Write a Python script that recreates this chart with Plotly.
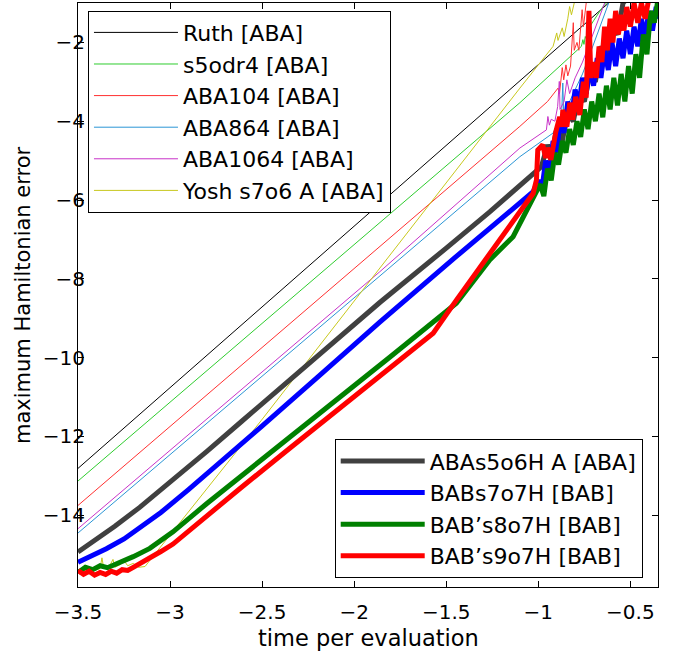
import plotly.graph_objects as go

FONT = "DejaVu Sans, Verdana, sans-serif"

# ---------------- data (log10 time per evaluation, log10 max Hamiltonian error) ----------------
ruth_x = [-3.5, -0.62, -0.55]
ruth_y = [-12.81, -1.0, -0.72]

s5odr4_x = [-3.5, -1.10, -0.766, -0.758, -0.752, -0.745, -0.735, -0.72, -0.70, -0.68, -0.65, -0.61]
s5odr4_y = [-13.13, -3.53, -2.10, -1.93, -2.05, -1.85, -1.95, -1.60, -1.45, -1.30, -1.10, -0.90]

aba104_x = [-3.5, -1.10, -0.95, -0.893, -0.885, -0.87, -0.862, -0.85, -0.84, -0.825, -0.81, -0.805,
            -0.79, -0.78, -0.762, -0.755, -0.74, -0.73]
aba104_y = [-13.75, -4.13, -3.50, -3.16, -3.30, -2.64, -2.95, -2.57, -2.85, -2.60, -1.50, -2.20,
            -2.00, -2.20, -1.17, -1.60, -1.00, -0.80]

aba864_x = [-3.5, -1.861, -1.10, -0.92, -0.90, -0.875, -0.867, -0.862, -0.84, -0.80, -0.76, -0.72,
            -0.68, -0.64, -0.61]
aba864_y = [-14.45, -7.94, -4.90, -4.30, -4.15, -4.00, -3.03, -3.90, -3.60, -3.20, -2.80, -2.30,
            -1.80, -1.30, -0.90]

aba1064_x = [-3.5, -1.861, -1.10, -0.956, -0.948, -0.94, -0.93, -0.91, -0.895, -0.886, -0.882,
             -0.86, -0.845, -0.83, -0.80, -0.76, -0.72, -0.68, -0.64]
aba1064_y = [-14.34, -7.82, -4.68, -4.22, -3.88, -4.10, -3.95, -4.00, -3.63, -2.99, -3.70,
             -3.50, -2.95, -3.30, -2.90, -2.50, -2.00, -1.50, -1.00]

yosh_x = [-3.5, -3.47, -3.44, -3.41, -3.38, -3.37, -3.36, -3.33, -3.31, -3.30, -3.27, -3.25,
          -3.23, -3.20, -3.17, -3.136, -2.966, -2.504, -1.10, -0.92, -0.90, -0.893, -0.87,
          -0.86, -0.84, -0.83, -0.82, -0.80]
yosh_y = [-15.38, -15.42, -15.35, -15.40, -15.35, -15.08, -15.35, -15.30, -15.12, -15.32, -15.25,
          -15.15, -15.28, -15.22, -15.32, -15.30, -14.30, -11.59, -3.16, -2.10, -1.76, -1.95,
          -1.63, -1.85, -1.40, -1.09, -1.30, -0.90]

abas5o6h_x = [-3.5, -3.40, -3.30, -3.165, -2.984, -2.80, -2.612, -2.2, -1.861, -1.5, -1.264,
              -0.983, -0.95, -0.93, -0.90, -0.87, -0.84, -0.81, -0.78, -0.75, -0.72, -0.69,
              -0.66, -0.63, -0.60, -0.57, -0.54, -0.50]
abas5o6h_y = [-14.93, -14.62, -14.28, -13.80, -13.10, -12.38, -11.62, -9.98, -8.60, -7.22, -6.30,
              -5.15, -4.60, -4.90, -4.20, -4.50, -3.80, -4.00, -3.30, -3.50, -2.80, -3.00,
              -2.10, -2.40, -1.60, -1.80, -1.00, -0.80]

babs7o7h_x = [-3.5, -3.43, -3.346, -3.25, -3.165, -3.05, -2.9, -2.7, -2.504, -2.2, -1.861, -1.45,
              -1.028, -1.0, -0.98, -0.96, -0.94, -0.92, -0.90, -0.88, -0.86, -0.84, -0.82, -0.80,
              -0.78, -0.76, -0.74, -0.72, -0.70, -0.68, -0.66, -0.64, -0.62, -0.60, -0.58, -0.56,
              -0.54, -0.52, -0.50, -0.48, -0.46, -0.44, -0.42, -0.40, -0.38, -0.36, -0.35]
babs7o7h_y = [-15.19, -15.05, -14.85, -14.60, -14.33, -13.93, -13.35, -12.55, -11.75, -10.50, -9.10, -7.45,
              -5.79, -5.50, -5.70, -5.00, -5.30, -4.50, -4.80, -3.90, -4.30, -3.50, -3.90, -3.20,
              -3.60, -2.90, -3.30, -2.60, -3.10, -2.40, -2.90, -2.20, -2.70, -2.00, -2.60, -1.90,
              -2.40, -1.70, -2.30, -1.60, -2.10, -1.40, -1.90, -1.20, -1.70, -1.10, -1.40]

babs8o7h_x = [-3.5, -3.46, -3.42, -3.38, -3.34, -3.30, -3.257, -3.20, -3.11, -2.984, -2.80, -2.62,
              -2.35, -1.807, -1.445, -1.264, -1.137, -1.01, -0.99, -0.97, -0.95, -0.93, -0.91,
              -0.89, -0.87, -0.85, -0.83, -0.81, -0.79, -0.77, -0.75, -0.73, -0.71, -0.69, -0.67,
              -0.65, -0.63, -0.61, -0.59, -0.57, -0.55, -0.53, -0.51, -0.49, -0.47, -0.45, -0.43,
              -0.41, -0.39, -0.37, -0.35]
babs8o7h_y = [-15.45, -15.32, -15.38, -15.28, -15.33, -15.25, -15.19, -15.05, -14.84, -14.42, -13.70, -13.03,
              -12.05, -9.99, -8.62, -7.52, -6.93, -5.83, -5.60, -5.90, -5.20, -5.50, -4.80,
              -5.10, -4.50, -4.80, -4.20, -4.60, -4.00, -4.40, -3.70, -4.20, -3.50, -4.00, -3.30,
              -3.90, -3.10, -3.70, -2.90, -3.60, -2.80, -3.50, -2.60, -3.30, -2.30, -2.90, -1.80,
              -2.30, -1.20, -1.50, -0.90]

babs9o7h_x = [-3.5, -3.47, -3.44, -3.41, -3.38, -3.35, -3.32, -3.29, -3.26, -3.23, -3.20, -3.16,
              -3.11, -3.05, -2.984, -2.90, -2.80, -2.62, -2.35, -2.0, -1.68, -1.571, -1.445,
              -1.173, -1.028, -1.010, -1.003, -0.976, -0.960, -0.949, -0.932, -0.905, -0.884,
              -0.873, -0.867, -0.845, -0.829, -0.813, -0.797, -0.775, -0.755, -0.74, -0.725,
              -0.715, -0.70, -0.685, -0.67, -0.655, -0.64, -0.625, -0.61, -0.595, -0.58, -0.565,
              -0.55, -0.535, -0.52, -0.50, -0.48, -0.46, -0.44, -0.42, -0.40]
babs9o7h_y = [-15.40, -15.50, -15.42, -15.52, -15.45, -15.50, -15.42, -15.47, -15.38, -15.40, -15.32, -15.22,
              -15.06, -14.92, -14.73, -14.40, -14.00, -13.32, -12.30, -11.00, -9.81, -9.38, -8.54,
              -6.76, -5.83, -5.49, -4.73, -4.60, -4.93, -4.67, -4.98, -4.27, -3.89,
              -4.14, -3.71, -4.14, -3.53, -3.96, -3.38, -3.84, -3.00, -3.40, -1.20,
              -2.90, -2.50, -2.90, -2.10, -2.50, -1.60, -2.20, -1.40, -2.00, -1.20, -1.80,
              -1.30, -1.70, -1.10, -1.60, -1.00, -1.50, -1.00, -1.40, -0.90]

x_ticks = [-3.5, -3, -2.5, -2, -1.5, -1, -0.5]
y_ticks = [-14, -12, -10, -8, -6, -4, -2]

thin_series = [
    ("Ruth [ABA]", ruth_x, ruth_y, "#000000"),
    ("s5odr4 [ABA]", s5odr4_x, s5odr4_y, "#2ecc2e"),
    ("ABA104 [ABA]", aba104_x, aba104_y, "#ff3030"),
    ("ABA864 [ABA]", aba864_x, aba864_y, "#2a95d5"),
    ("ABA1064 [ABA]", aba1064_x, aba1064_y, "#c832c8"),
    ("Yosh s7o6 A [ABA]", yosh_x, yosh_y, "#c8c81e"),
]
thick_series = [
    ("ABAs5o6H A [ABA]", abas5o6h_x, abas5o6h_y, "#404040"),
    ("BABs7o7H [BAB]", babs7o7h_x, babs7o7h_y, "#0000ff"),
    ("BAB\u2019s8o7H [BAB]", babs8o7h_x, babs8o7h_y, "#008000"),
    ("BAB\u2019s9o7H [BAB]", babs9o7h_x, babs9o7h_y, "#ff0000"),
]

fig = go.Figure()
for name, xs, ys, col in thin_series:
    fig.add_trace(go.Scatter(x=xs, y=ys, mode="lines", name=name,
                             line=dict(color=col, width=1), legend="legend"))
for name, xs, ys, col in thick_series:
    fig.add_trace(go.Scatter(x=xs, y=ys, mode="lines", name=name,
                             line=dict(color=col, width=5), legend="legend2"))

axis_common = dict(
    showline=True, linecolor="black", linewidth=1.2, mirror="ticks",
    ticks="inside", ticklen=6, tickwidth=1, tickcolor="black",
    showgrid=False, zeroline=False, automargin=False,
    tickfont=dict(family=FONT, size=20, color="black"),
)

legend_common = dict(xanchor="left", yanchor="top", bgcolor="white",
                     bordercolor="black", borderwidth=1, itemwidth=84,
                     font=dict(family=FONT, size=22, color="black"), tracegroupgap=0)

fig.update_layout(
    width=676, height=656,
    margin=dict(l=78, r=18, t=3, b=69),
    paper_bgcolor="white", plot_bgcolor="white",
    font=dict(family=FONT, size=20, color="black"),
    xaxis=dict(range=[-3.5, -0.35], tickmode="array", tickvals=x_ticks,
               ticklabelstandoff=7, **axis_common),
    yaxis=dict(range=[-15.82, -1.0], tickmode="array", tickvals=y_ticks,
               ticklabelstandoff=-12, **axis_common),
    legend=dict(x=0.0172, y=0.987, **legend_common),
    legend2=dict(x=0.4426, y=0.2532, **legend_common),
    showlegend=True,
    annotations=[
        dict(text="time per evaluation", xref="paper", yref="paper", x=0.5, y=0,
             xanchor="center", yanchor="middle", yshift=-51, showarrow=False,
             font=dict(family=FONT, size=22.5, color="black")),
        dict(text="maximum Hamiltonian error", xref="paper", yref="paper", x=0, y=0.5,
             xanchor="center", yanchor="middle", xshift=-55, textangle=-90, showarrow=False,
             font=dict(family=FONT, size=21, color="black")),
    ],
)

fig.write_html("out.html", config={"displayModeBar": False},
               post_script="document.body.style.margin='0px';")
